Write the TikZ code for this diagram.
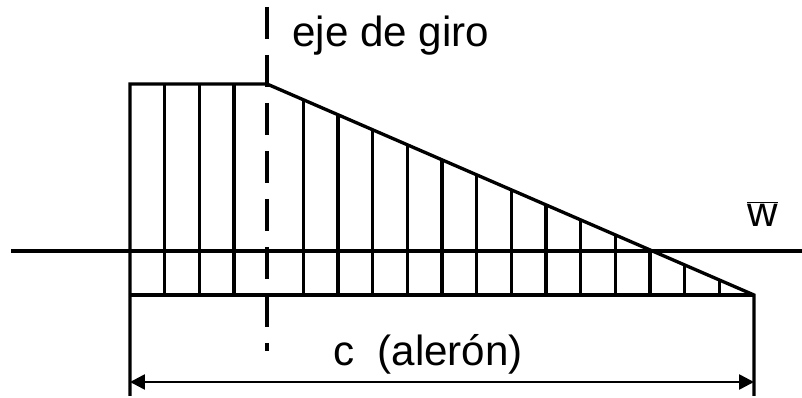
\documentclass[tikz,border=0pt]{standalone}
\usepackage{fontspec}
\setmainfont{Liberation Sans}
\usetikzlibrary{arrows.meta,calc}

\tikzset{
  outline/.style={line width=1.9pt},
  hatchline/.style={line width=1.8pt},
  pivotaxis/.style={line width=2.2pt, dash pattern=on 0.64cm off 0.32cm},
  dimline/.style={line width=1.5pt, {Triangle[length=0.3cm,width=0.3cm]}-{Triangle[length=0.3cm,width=0.3cm]}},
  lbl/.style={font=\fontsize{24}{28}\selectfont, inner sep=0pt}
}

\begin{document}
\begin{tikzpicture}[x=0.02cm, y=-0.02cm]
  \useasboundingbox (0,0) rectangle (802,398);
  % key points of the profile
  \coordinate (lefttop) at (130,84);
  \coordinate (pivot) at (267,84);
  \coordinate (tip) at (754,295);
  \coordinate (leftbase) at (130,295);
  \coordinate (leftfoot) at (130,396);
  \coordinate (rightfoot) at (754,396);
  % hatching under the load
  \foreach \i in {1,2,3,5,6,...,17} {
    \pgfmathsetmacro{\hx}{130+\i*34.67}
    \pgfmathsetmacro{\hy}{\hx<267 ? 84 : 84+(\hx-267)/487*211}
    \draw[hatchline] (\hx,295) -- (\hx,\hy);
  }
  % load outline
  \draw[outline] (leftfoot) -- (lefttop) -- (pivot) -- (tip) -- (rightfoot);
  \draw[outline] (leftbase) -- (tip);
  % horizontal reference line
  \coordinate (axisL) at (11,251);
  \coordinate (axisR) at (802,251);
  \draw[outline] (axisL) -- (axisR);
  % hinge axis
  \coordinate (hingetop) at (267,7);
  \coordinate (hingebot) at (267,351);
  \draw[pivotaxis] (hingetop) -- (hingebot);
  % chord dimension
  \coordinate (dimL) at (130,382);
  \coordinate (dimR) at (754,382);
  \draw[dimline] (dimL) -- (dimR);
  % labels
  \node[lbl, anchor=base west] (hingelbl) at (292,47) {eje de giro};
  \node[lbl, anchor=base] (chordlbl) at (428,366) {c\ \ (alerón)};
  \node[lbl, anchor=base west] (wlbl) at (747,227) {$\overline{\mbox{w}}$};
\end{tikzpicture}
\end{document}
